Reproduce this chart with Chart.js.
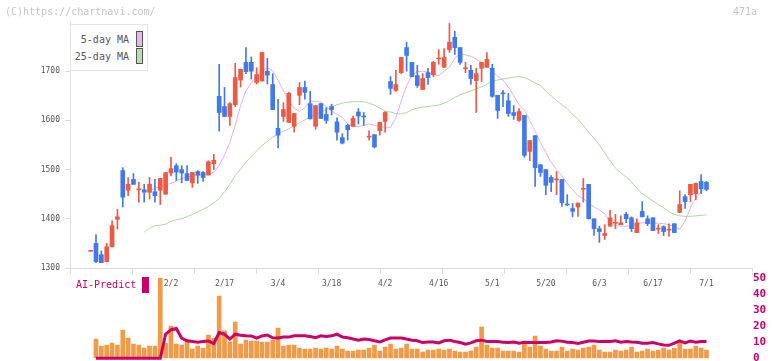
<!DOCTYPE html>
<html><head><meta charset="utf-8">
<script src="https://cdn.jsdelivr.net/npm/chart.js@4.4.1/dist/chart.umd.min.js"></script>
<style>
body{margin:0;background:#fff;width:772px;height:361px;overflow:hidden;position:relative;font-family:"DejaVu Sans Mono",monospace;}
canvas{position:absolute;left:0;}
#c1{top:0}
#c2{top:262px}
.t{position:absolute;font-size:10px;line-height:12px;white-space:nowrap;}
.sw{position:absolute;box-sizing:border-box;}
</style></head><body>
<canvas id="c1" width="772" height="300"></canvas>
<canvas id="c2" width="772" height="110"></canvas>
<div class="t" style="left:5px;top:6px;color:#c4c4c4">(C)https://chartnavi.com/</div>
<div class="t" style="left:733px;top:6px;color:#c4c4c4">471a</div>
<div style="position:absolute;left:70px;top:24px;width:78px;height:47px;box-sizing:border-box;border:1px solid #e4e4e4;background:#fff"></div>
<div class="t" style="left:70px;width:59px;text-align:right;top:34px;color:#555">5-day MA</div>
<div class="sw" style="left:136px;top:31px;width:7px;height:16px;border:1px solid #555;background:#e8b8e8"></div>
<div class="t" style="left:70px;width:59px;text-align:right;top:51px;color:#555">25-day MA</div>
<div class="sw" style="left:136px;top:48px;width:7px;height:16px;border:1px solid #555;background:#b8dcb0"></div>
<div class="t" style="left:76px;top:279px;color:#cc0066">AI-Predict</div>
<div class="sw" style="left:142px;top:277px;width:7px;height:16px;background:#cc0066"></div>
<script>
const dates = ['1/9','1/13','1/14','1/15','1/16','1/19','1/20','1/21','1/22','1/23','1/26','1/27','1/28','1/29','1/30',
'2/2','2/3','2/4','2/5','2/6','2/9','2/10','2/12','2/13','2/16','2/17','2/18','2/19','2/20','2/24','2/25','2/26','2/27',
'3/2','3/3','3/4','3/5','3/6','3/9','3/10','3/11','3/12','3/13','3/16','3/17','3/18','3/19','3/23','3/24','3/25','3/26','3/27','3/30','3/31',
'4/1','4/2','4/3','4/6','4/7','4/8','4/9','4/10','4/13','4/14','4/15','4/16','4/17','4/20','4/21','4/22','4/23','4/24','4/27','4/28','4/30',
'5/1','5/7','5/8','5/11','5/12','5/13','5/14','5/15','5/18','5/19','5/20','5/21','5/22','5/25','5/26','5/27','5/28','5/29',
'6/1','6/2','6/3','6/4','6/5','6/8','6/9','6/10','6/11','6/12','6/15','6/16','6/17','6/18','6/19','6/22','6/23','6/24','6/25','6/26','6/29','6/30',
'7/1'];
const tickLabels = ['2/2','2/17','3/4','3/18','4/2','4/16','5/1','5/20','6/3','6/17','7/1'];
const priceTicks = [1300,1400,1500,1600,1700];
const open = [1334,
1350,1327,1313,1343,1399,1498,1458,1480,1459,1459,
1454,1455,1458,1450,1493,1508,1500,1492,1473,1496,
1494,1489,1512,1649,1628,1608,1632,1682,1718,1718,
1677,1680,1700,1673,1584,1608,1596,1588,1651,1667,
1634,1588,1634,1612,1628,1597,1565,1590,1588,1617,
1609,1566,1571,1579,1598,1679,1661,1697,1748,1718,
1691,1663,1697,1693,1725,1708,1744,1769,1748,1705,
1702,1681,1706,1708,1706,1651,1656,1640,1616,1600,
1610,1537,1569,1510,1500,1484,1479,1480,1430,1421,
1424,1460,1470,1400,1380,1366,1385,1391,1388,1409,
1402,1372,1415,1400,1402,1379,1384,1377,1390,1413,
1445,1449,1451,1476,1474];
const high = [1336,
1368,1335,1350,1396,1419,1504,1484,1492,1474,1470,
1484,1480,1482,1494,1525,1512,1508,1508,1494,1498,
1496,1518,1531,1714,1667,1636,1716,1704,1748,1729,
1707,1738,1726,1695,1643,1636,1657,1614,1677,1680,
1659,1630,1634,1626,1633,1605,1573,1592,1609,1624,
1616,1579,1571,1596,1618,1689,1702,1728,1759,1718,
1712,1695,1706,1720,1744,1746,1797,1781,1748,1718,
1712,1706,1718,1738,1714,1651,1661,1655,1630,1624,
1610,1559,1569,1510,1500,1488,1496,1480,1449,1431,
1432,1482,1470,1400,1385,1388,1417,1409,1406,1413,
1404,1400,1435,1406,1402,1388,1386,1390,1390,1457,
1449,1470,1473,1490,1476];
const low = [1334,
1311,1311,1313,1343,1379,1424,1447,1470,1434,1434,
1440,1434,1429,1450,1487,1478,1473,1478,1464,1472,
1476,1489,1500,1578,1608,1590,1628,1668,1695,1684,
1674,1680,1674,1622,1544,1598,1596,1576,1632,1643,
1603,1582,1604,1594,1611,1560,1552,1560,1588,1593,
1590,1560,1544,1570,1576,1653,1659,1695,1700,1689,
1667,1663,1673,1689,1714,1708,1738,1734,1714,1697,
1673,1616,1679,1708,1647,1604,1628,1608,1602,1598,
1525,1518,1466,1486,1449,1455,1449,1425,1427,1404,
1405,1434,1400,1366,1352,1358,1385,1380,1388,1392,
1374,1372,1404,1386,1376,1370,1366,1364,1372,1413,
1421,1435,1439,1451,1457];
const close = [1336,
1313,1311,1343,1386,1404,1444,1470,1470,1461,1454,
1470,1447,1482,1494,1502,1495,1493,1478,1494,1489,
1484,1516,1519,1616,1608,1634,1687,1704,1699,1700,
1693,1738,1692,1622,1570,1622,1655,1614,1667,1657,
1603,1630,1604,1600,1622,1576,1554,1581,1604,1609,
1607,1568,1546,1596,1616,1665,1673,1728,1732,1689,
1671,1685,1687,1718,1727,1728,1759,1748,1718,1707,
1685,1695,1718,1724,1649,1620,1654,1614,1610,1618,
1529,1559,1504,1494,1468,1474,1481,1433,1428,1415,
1432,1462,1400,1380,1374,1370,1402,1393,1392,1400,
1380,1392,1404,1390,1376,1381,1374,1379,1372,1429,
1435,1470,1472,1461,1460];
const ma5 = [null,null,null,null,null,null,null,null,null,null,
1455,1458,1462,1466,1469,1472,1477,1482,1485,1487,
1488,1489,1490,1495,1508,1530,1555,1590,1630,1660,
1677,1690,1700,1707,1701,1682,1660,1640,1625,1618,
1626,1639,1639,1637,1628,1619,1612,1606,1593,1588,
1587,1590,1593,1590,1587,1586,1586,1605,1640,1670,
1692,1699,1700,1698,1693,1691,1700,1708,1726,1736,
1733,1730,1725,1717,1710,1700,1690,1682,1668,1650,
1632,1622,1600,1578,1555,1535,1515,1500,1487,1472,
1459,1447,1441,1432,1424,1418,1410,1395,1386,1385,
1385,1386,1390,1392,1392,1391,1391,1390,1388,1384,
1379,1395,1422,1442,1455,1463];
const ma25 = [null,null,null,null,null,null,null,null,null,null,
1373,1381,1386,1387,1389,1395,1398,1400,1404,1409,
1414,1419,1425,1433,1441,1455,1470,1488,1501,1515,
1527,1538,1549,1557,1566,1572,1578,1583,1589,1595,
1601,1607,1612,1617,1622,1627,1632,1635,1637,1638,
1638,1638,1635,1631,1625,1619,1617,1614,1613,1616,
1622,1625,1627,1628,1630,1631,1635,1640,1647,1652,
1656,1660,1664,1668,1673,1680,1682,1684,1686,1688,
1689,1687,1682,1676,1671,1659,1650,1640,1632,1624,
1612,1602,1590,1576,1564,1550,1534,1518,1503,1493,
1485,1475,1462,1451,1444,1436,1429,1422,1414,1409,
1406,1405,1405,1406,1407,1408];
const volume = [null,
193,123,133,153,133,283,203,143,133,103,
123,123,803,150,323,143,133,183,93,123,
103,233,203,623,276,166,363,143,183,173,
173,163,163,183,303,123,133,133,103,93,
93,103,93,103,93,123,93,73,73,83,
83,103,133,73,113,143,93,103,143,93,
93,63,83,83,93,83,93,73,63,63,
73,113,313,133,103,103,73,73,73,63,
163,113,223,123,93,73,73,113,73,93,
83,103,113,133,83,63,63,83,73,83,
113,63,73,93,73,83,103,83,100,180,
93,93,123,103,83];
const aiPredict = [null,
0,0,0,0,0,0,0,0,0,0,
0,0,0,15,17.8,18.6,12.5,10.9,10.5,10,
10.5,10.7,9.2,16,15,12,15,14.3,14,13.9,
12.6,13.9,14.5,12.8,12.6,13.2,13.2,14,14,14,
13.6,12.8,14,13.6,14,15,13.2,12.8,12,11.3,
12,11.7,10.9,10.2,11.5,12.6,12.6,12.6,12,11.3,
10.9,9.8,10.2,10.2,9.6,10.9,11.3,10.5,9.8,8.8,
9.6,10.9,11.3,10.5,10.5,10.5,10,9.8,10.2,9.4,
10,9.8,9.8,9.8,9.8,10.2,10.9,10.7,10,9.8,
9.2,10,10.7,10.7,10.5,10.5,10.5,10.9,10,10.5,
10.2,10,9.4,9.4,9.8,9,8.3,8.1,9.4,10.9,
9.6,10.7,10,10.5,10.5];

const FONT = 'DejaVu Sans Mono';
const XMIN = -3.855, XMAX = 123.5;
const RED = '#ef5843', BLUE = '#4179ec';
const idx = dates.map((d, i) => i);
const candleColor = idx.map(i => close[i] >= open[i] ? RED : BLUE);
const AXIS = '#dcdcdc';

new Chart(document.getElementById('c1'), {
  data: {
    datasets: [
      {type: 'bar', label: 'body', data: idx.map(i => ({x: i, y: [open[i], close[i]]})),
       backgroundColor: candleColor, barThickness: 4, grouped: false, order: 1},
      {type: 'bar', label: 'wick', data: idx.map(i => ({x: i, y: [low[i], high[i]]})),
       backgroundColor: candleColor, barThickness: 1, grouped: false, order: 2},
      {type: 'line', label: '5-day MA', data: idx.map(i => ({x: i, y: ma5[i]})),
       borderColor: '#e6b0e8', borderWidth: 1, pointRadius: 0, order: 3},
      {type: 'line', label: '25-day MA', data: idx.map(i => ({x: i, y: ma25[i]})),
       borderColor: '#aed8a2', borderWidth: 1, pointRadius: 0, order: 4}
    ]
  },
  options: {
    responsive: false, animation: false, devicePixelRatio: 1,
    layout: {padding: {top: 22, right: 20, left: 0, bottom: 0}},
    plugins: {legend: {display: false}, tooltip: {enabled: false}},
    scales: {
      x: {type: 'linear', min: XMIN, max: XMAX, offset: false, position: 'bottom', weight: 1,
        afterBuildTicks: s => { s.ticks = tickLabels.map(l => ({value: dates.indexOf(l)})); },
        ticks: {callback: v => dates[v] || '', font: {family: FONT, size: 8}, color: '#555',
                padding: 11, maxRotation: 0, autoSkip: false},
        grid: {display: false, drawTicks: false},
        border: {display: true, color: AXIS, width: 1},
        afterFit: s => { s.height = 32; }},
      x2: {type: 'linear', min: 0, max: 11, offset: false, position: 'bottom', weight: 0,
        ticks: {display: false, stepSize: 1},
        grid: {drawOnChartArea: false, tickLength: 6, color: AXIS, lineWidth: 1, offset: false},
        border: {display: false},
        afterFit: s => { s.height = 0; }},
      y: {type: 'linear', min: 1300, max: 1800, position: 'left',
        afterBuildTicks: s => { s.ticks = priceTicks.map(v => ({value: v})); },
        ticks: {callback: v => String(v), font: {family: FONT, size: 8}, color: '#555', padding: 5},
        grid: {drawOnChartArea: false, tickLength: 5, color: AXIS, lineWidth: 1},
        border: {color: AXIS, width: 1},
        afterFit: s => { s.width = 70; }}
    }
  }
});

new Chart(document.getElementById('c2'), {
  data: {
    datasets: [
      {type: 'line', label: 'AI-Predict', data: idx.map(i => ({x: i, y: aiPredict[i]})),
       borderColor: '#cc0066', borderWidth: 3, pointRadius: 0, yAxisID: 'y', order: 1, clip: false},
      {type: 'bar', label: 'Volume', data: idx.map(i => ({x: i, y: volume[i]})),
       backgroundColor: '#f39a46', barThickness: 4, yAxisID: 'yv', order: 2}
    ]
  },
  options: {
    responsive: false, animation: false, devicePixelRatio: 1,
    layout: {padding: {top: 16, right: 0, left: 70, bottom: 13.7}},
    plugins: {legend: {display: false}, tooltip: {enabled: false}},
    scales: {
      x: {type: 'linear', min: XMIN, max: XMAX, offset: false, display: false},
      y: {type: 'linear', position: 'right', min: 0, max: 50,
        ticks: {stepSize: 10, autoSkip: false, color: '#cc0066', font: {family: FONT, size: 11, weight: 'bold'}, padding: 1},
        grid: {display: false, drawTicks: false}, border: {display: false},
        afterFit: s => { s.width = 20; }},
      yv: {type: 'linear', display: false, min: 0, max: 805}
    }
  }
});
</script>
</body></html>
